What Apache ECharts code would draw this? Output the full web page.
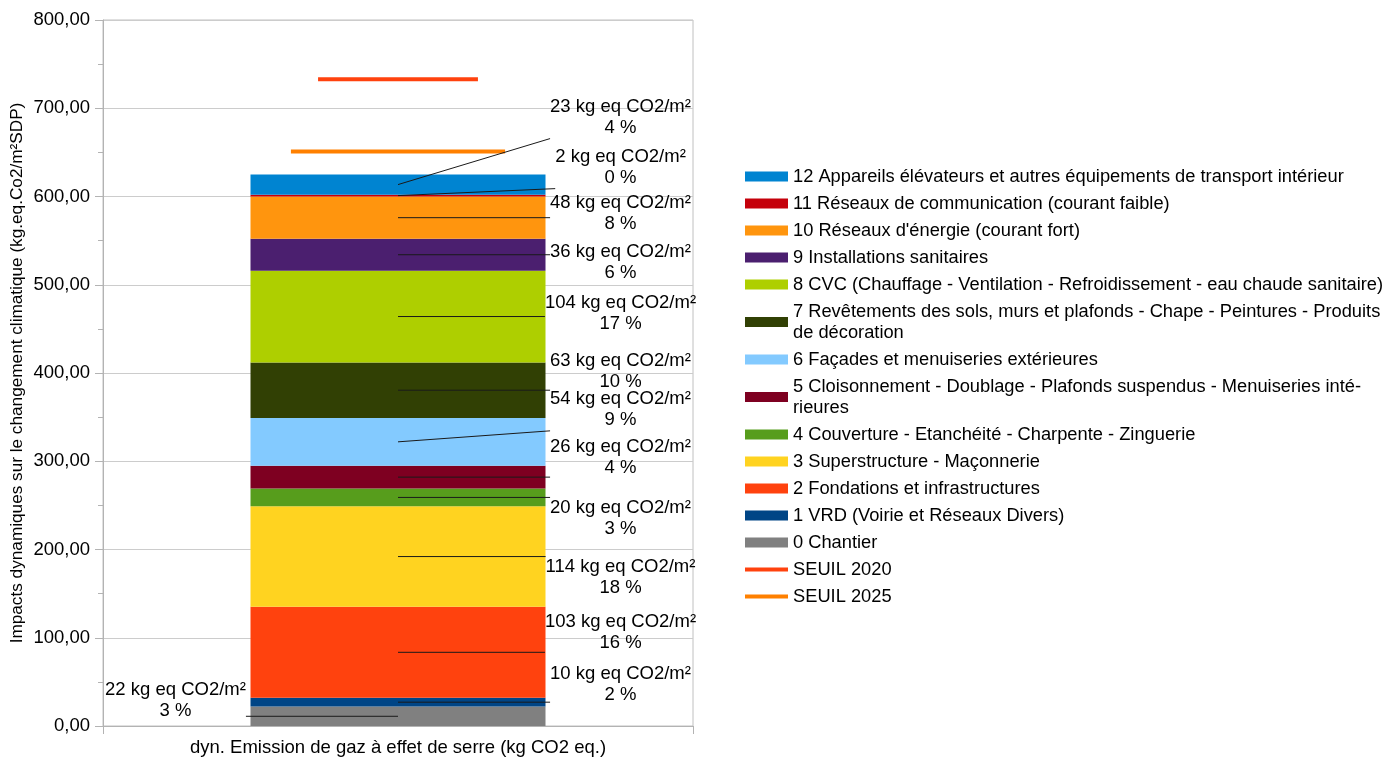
<!DOCTYPE html>
<html>
<head>
<meta charset="utf-8">
<title>Impacts dynamiques</title>
<script src="https://cdn.jsdelivr.net/npm/echarts@6/dist/echarts.min.js"></script>
<style>
  html, body { margin: 0; padding: 0; background: #ffffff; }
  #chart { width: 1385px; height: 760px; }
</style>
</head>
<body>
<div id="chart"></div>
<script>
// ---- data ----
const categories = ['dyn. Emission de gaz à effet de serre (kg CO2 eq.)'];

const lotNames = [
  '0 Chantier',
  '1 VRD (Voirie et Réseaux Divers)',
  '2 Fondations et infrastructures',
  '3 Superstructure - Maçonnerie',
  '4 Couverture - Etanchéité - Charpente - Zinguerie',
  '5 Cloisonnement - Doublage - Plafonds suspendus - Menuiseries intérieures',
  '6 Façades et menuiseries extérieures',
  '7 Revêtements des sols, murs et plafonds - Chape - Peintures - Produits de décoration',
  '8 CVC (Chauffage - Ventilation - Refroidissement - eau chaude sanitaire)',
  '9 Installations sanitaires',
  "10 Réseaux d'énergie (courant fort)",
  '11 Réseaux de communication (courant faible)',
  '12 Appareils élévateurs et autres équipements de transport intérieur'
];
// kg eq CO2/m² per lot
const lotValues = [22, 10, 103, 114, 20, 26, 54, 63, 104, 36, 48, 2, 23];
// share of total, %
const lotShares = [3, 2, 16, 18, 3, 4, 9, 10, 17, 6, 8, 0, 4];

const thresholdNames = ['SEUIL 2020', 'SEUIL 2025'];
const thresholdValues = [733, 651];

const yMin = 0, yMax = 800, yStep = 100;

// ---- styling ----
const FONT = '"Liberation Sans", Arial, sans-serif';
const lotColors = ['#808080', '#004586', '#ff420e', '#ffd320', '#579d1c', '#7e0021',
  '#83caff', '#314004', '#aecf00', '#4b1f6f', '#ff950e', '#c5000b', '#0084d1'];
const thresholdColors = ['#ff420e', '#ff8000'];
const thresholdSpan = [0.271, 0.363];   // share of the category band covered by each threshold line

// legend display text (manual wrapping of long lot names)
const legendText = {
  '7 Revêtements des sols, murs et plafonds - Chape - Peintures - Produits de décoration':
    '7 Revêtements des sols, murs et plafonds - Chape - Peintures - Produits\nde décoration',
  '5 Cloisonnement - Doublage - Plafonds suspendus - Menuiseries intérieures':
    '5 Cloisonnement - Doublage - Plafonds suspendus - Menuiseries inté-\nrieures'
};

// data label placement: side of the bar and vertical shift (px) from the segment middle
const labelSide = ['left', 'right', 'right', 'right', 'right', 'right', 'right',
  'right', 'right', 'right', 'right', 'right', 'right'];
const labelShift = [-16, -18, -20, 21, 21, -20, -32, -19, -3, 8, -4, -28, -67];
const LABEL_FS = 18.5, LABEL_LH = 21, LABEL_GAP = 75;
const LEGEND_FS = 18.3;

const measureCtx = document.createElement('canvas').getContext('2d');
measureCtx.font = LABEL_FS + 'px ' + FONT;
function textWidth(s) { return measureCtx.measureText(s).width; }

// cumulative bottoms of stacked segments
const bottoms = [];
lotValues.reduce((acc, v, i) => { bottoms[i] = acc; return acc + v; }, 0);

const barSeries = lotNames.map((name, i) => ({
  name: name,
  type: 'bar',
  stack: 'lots',
  barWidth: '50%',
  data: [lotValues[i]],
  itemStyle: { color: lotColors[i] },
  emphasis: { disabled: true },
  silent: true
}));

const thresholdSeries = thresholdNames.map((name, k) => ({
  name: name,
  type: 'custom',
  z: 5,
  silent: true,
  itemStyle: { color: thresholdColors[k] },
  encode: { x: 0, y: 1 },
  data: [[0, thresholdValues[k]]],
  renderItem: function (params, api) {
    const c = api.coord([api.value(0), api.value(1)]);
    const half = api.size([1, 0])[0] * thresholdSpan[k] / 2;
    return {
      type: 'line',
      shape: { x1: c[0] - half, y1: c[1], x2: c[0] + half, y2: c[1] },
      style: { stroke: thresholdColors[k], lineWidth: 4 }
    };
  }
}));

const labelSeries = {
  name: 'labels',
  type: 'custom',
  z: 6,
  silent: true,
  encode: { x: 0, y: [1, 2] },
  data: lotValues.map((v, i) => [0, bottoms[i] + v, bottoms[i], v, lotShares[i]]),
  renderItem: function (params, api) {
    const i = params.dataIndex;
    const value = api.value(3);
    const mid = api.coord([api.value(0), api.value(2) + value / 2]);
    const halfBar = api.size([1, 0])[0] * 0.25;
    const line1 = value + ' kg eq CO2/m²';
    const line2 = api.value(4) + ' %';
    const w = Math.max(textWidth(line1), textWidth(line2));
    const right = labelSide[i] === 'right';
    const cx = right ? mid[0] + halfBar + LABEL_GAP : mid[0] - halfBar - LABEL_GAP;
    const cy = mid[1] + labelShift[i];
    const top = cy - LABEL_LH, bottom = cy + LABEL_LH;
    const ex = right ? cx - w / 2 : cx + w / 2;
    let ey = mid[1];
    if (mid[1] > bottom) ey = bottom;
    else if (mid[1] < top) ey = top;
    return {
      type: 'group',
      children: [
        {
          type: 'line',
          shape: { x1: mid[0], y1: mid[1], x2: ex, y2: ey },
          style: { stroke: '#1a1a1a', lineWidth: 1 }
        },
        {
          type: 'text',
          x: cx, y: cy,
          style: {
            text: line1 + '\n' + line2,
            fontSize: LABEL_FS, fontFamily: FONT, fill: '#000',
            align: 'center', verticalAlign: 'middle', lineHeight: LABEL_LH
          }
        }
      ]
    };
  }
};

const legendData = lotNames.slice().reverse().map(n => ({ name: n, icon: 'rect' }))
  .concat(thresholdNames.map(n => ({
    name: n,
    icon: 'path://M0,0L0,0M0,3L43,3L43,7L0,7ZM43,10L43,10'
  })));

const chart = echarts.init(document.getElementById('chart'), null, { renderer: 'canvas' });
chart.setOption({
  animation: false,
  backgroundColor: '#ffffff',
  textStyle: { fontFamily: FONT },
  grid: {
    left: 103, right: 692, top: 20, bottom: 34,
    show: true, borderColor: '#c0c0c0', borderWidth: 1
  },
  legend: {
    orient: 'vertical',
    left: 745, top: 166,
    padding: 0,
    itemWidth: 43, itemHeight: 10, itemGap: 6,
    selectedMode: false,
    textStyle: { fontSize: LEGEND_FS, lineHeight: LABEL_LH, color: '#000', fontFamily: FONT },
    formatter: name => legendText[name] || name,
    data: legendData
  },
  xAxis: {
    type: 'category',
    data: categories,
    boundaryGap: true,
    axisLine: { lineStyle: { color: '#b3b3b3' } },
    axisTick: { show: true, length: 8, lineStyle: { color: '#b3b3b3' } },
    axisLabel: { fontSize: LABEL_FS, color: '#000', margin: 12, fontFamily: FONT }
  },
  yAxis: {
    type: 'value',
    min: yMin, max: yMax, interval: yStep,
    name: 'Impacts dynamiques sur le changement climatique (kg.eq.Co2/m²SDP)',
    nameLocation: 'middle',
    nameGap: 77,
    nameTextStyle: { fontSize: 17.2, color: '#000', fontFamily: FONT },
    axisLine: { show: true, lineStyle: { color: '#b3b3b3' } },
    axisTick: { show: true, length: 8, lineStyle: { color: '#b3b3b3' } },
    minorTick: { show: true, splitNumber: 2, length: 5, lineStyle: { color: '#b3b3b3' } },
    splitLine: { show: true, lineStyle: { color: '#cccccc' } },
    axisLabel: {
      fontSize: LABEL_FS, color: '#000', margin: 13, fontFamily: FONT,
      formatter: v => v.toFixed(2).replace('.', ',')
    }
  },
  series: barSeries.concat(thresholdSeries, [labelSeries])
});
</script>
</body>
</html>
